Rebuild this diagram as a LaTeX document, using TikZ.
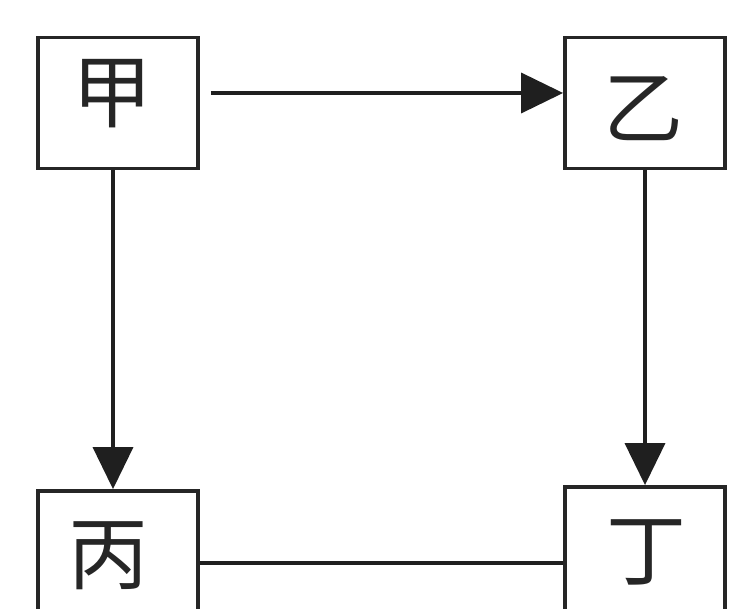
\documentclass[tikz,border=0pt]{standalone}
\usepackage{fontspec}
\newfontfamily\cjk{Noto Sans CJK SC}
\usetikzlibrary{arrows.meta}
\begin{document}
\begin{tikzpicture}[x=1pt,y=-1pt,
  box/.style={draw=black!85,line width=3.8pt,minimum width=160pt,inner sep=0pt},
  lbl/.style={font=\cjk\fontsize{80}{80}\selectfont,inner sep=0pt,text=black!85},
  conn/.style={draw=black!88,line width=3.6pt},
  arr/.style={conn,-{Triangle[length=42pt,width=40pt]}}]
\useasboundingbox (0,0) rectangle (729,609);
\begin{scope}
\clip (0,0) rectangle (729,609);
\node[box,minimum height=131pt] (jia) at (118,103) {};
\node[box,minimum height=131pt] (yi) at (645,103) {};
\node[box,minimum height=144pt] (bing) at (118,563) {};
\node[box,minimum height=152pt] (ding) at (645,563) {};
\end{scope}
\node[lbl] (tjia) at (112,94) {甲};
\node[lbl] (tyi) at (643,109) {乙};
\node[lbl] (tbing) at (108,556) {丙};
\node[lbl] (tding) at (646,552) {丁};
\draw[arr,shorten <=11pt] (jia.east |- 0,93) -- (yi.west |- 0,93);
\draw[arr] ([xshift=-5pt]jia.south) -- ([xshift=-5pt]bing.north);
\draw[arr] (yi.south) -- (ding.north);
\draw[conn] (bing.east) -- (ding.west);
\end{tikzpicture}
\end{document}
